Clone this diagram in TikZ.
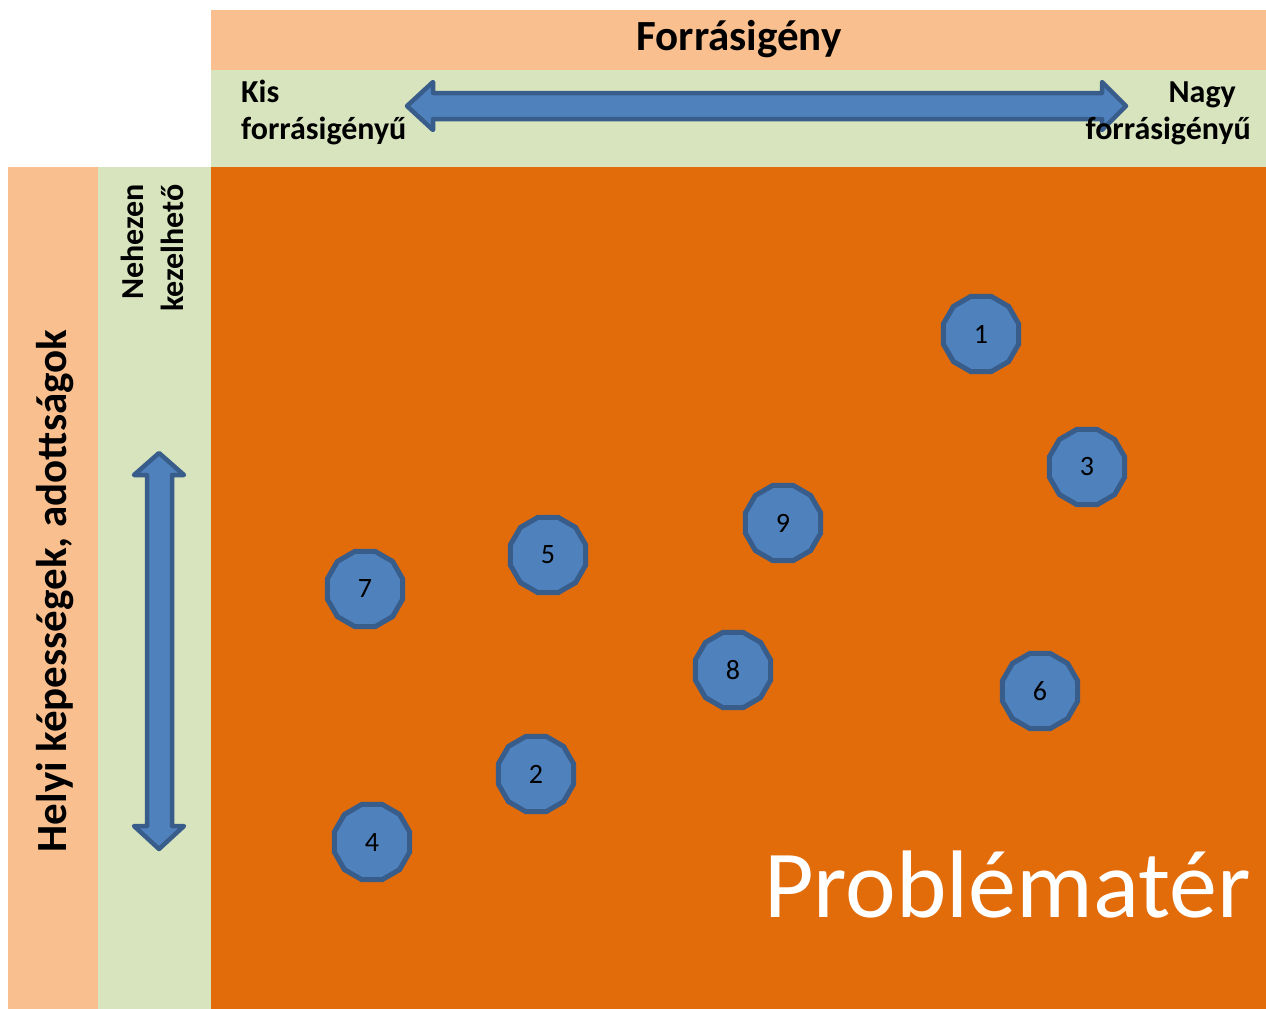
\documentclass[tikz,border=0pt]{standalone}
\usepackage{fontspec}
\setmainfont{Carlito}
\usetikzlibrary{shapes.geometric}
\begin{document}
\begin{tikzpicture}[x=1pt,y=-1pt,
  blueshape/.style={fill=arrowblue,draw=arrowedge,line width=4.5pt,line join=round},
  issue/.style={regular polygon,regular polygon sides=12,
    minimum size=78pt,inner sep=0pt,fill=arrowblue,draw=arrowedge,line width=5pt,
    font=\fontsize{28}{32}\selectfont,text=black},
  headlbl/.style={font=\bfseries\fontsize{32}{38}\selectfont,inner sep=0pt}
]
\definecolor{lightorange}{HTML}{F9BF8F}
\definecolor{lightgreen}{HTML}{D7E4BD}
\definecolor{mainorange}{HTML}{E26B0A}
\definecolor{arrowblue}{HTML}{4F81BD}
\definecolor{arrowedge}{HTML}{385D8A}
\useasboundingbox (0,0) rectangle (1266,1009);
\fill[white] (0,0) rectangle (1266,1009);
% bands
\fill[lightorange] (211,10) rectangle (1266,70);
\fill[lightgreen] (211,70) rectangle (1266,167);
\fill[lightorange] (8,167) rectangle (98,1009);
\fill[lightgreen] (98,167) rectangle (211,1009);
\fill[mainorange] (211,167) rectangle (1266,1009);
% axis titles
\node[font=\bfseries\fontsize{43}{50}\selectfont,inner sep=0pt] (ttop) at (739,39) {Forrásigény};
\node[font=\bfseries\fontsize{43}{50}\selectfont,inner sep=0pt,rotate=90,anchor=base] (tleft) at (66,591) {Helyi képességek, adottságok};
% horizontal double arrow
\draw[blueshape] (407,106) -- (433,82) -- (433,93) -- (1102,93) -- (1102,82) -- (1126,106)
  -- (1102,130) -- (1102,119) -- (433,119) -- (433,130) -- cycle;
\node[headlbl,anchor=base west] (kis1) at (241,102) {Kis};
\node[headlbl,anchor=base west] (kis2) at (241,139) {forrásigényű};
\node[headlbl,anchor=base east] (nagy1) at (1236,102) {Nagy};
\node[headlbl,anchor=base east] (nagy2) at (1251,139) {forrásigényű};
% vertical double arrow
\draw[blueshape] (159,453) -- (184,475) -- (172,475) -- (172,826) -- (184,826) -- (159,849)
  -- (134,826) -- (147,826) -- (147,475) -- (134,475) -- cycle;
\node[headlbl,rotate=90,anchor=base east] (neh1) at (143,184) {Nehezen};
\node[headlbl,rotate=90,anchor=base east] (neh2) at (183,184) {kezelhető};
% issues
\node[issue] (i1) at (981,334) {1};
\node[issue] (i3) at (1087,467) {3};
\node[issue] (i9) at (783,523) {9};
\node[issue] (i5) at (548,555) {5};
\node[issue] (i7) at (365,589) {7};
\node[issue] (i8) at (733,670) {8};
\node[issue] (i6) at (1040,691) {6};
\node[issue] (i2) at (536,774) {2};
\node[issue] (i4) at (372,842) {4};
% space label
\node[font=\fontsize{96}{112}\selectfont,text=white,inner sep=0pt,anchor=base east] (space) at (1251,917) {Problématér};
\end{tikzpicture}
\end{document}
